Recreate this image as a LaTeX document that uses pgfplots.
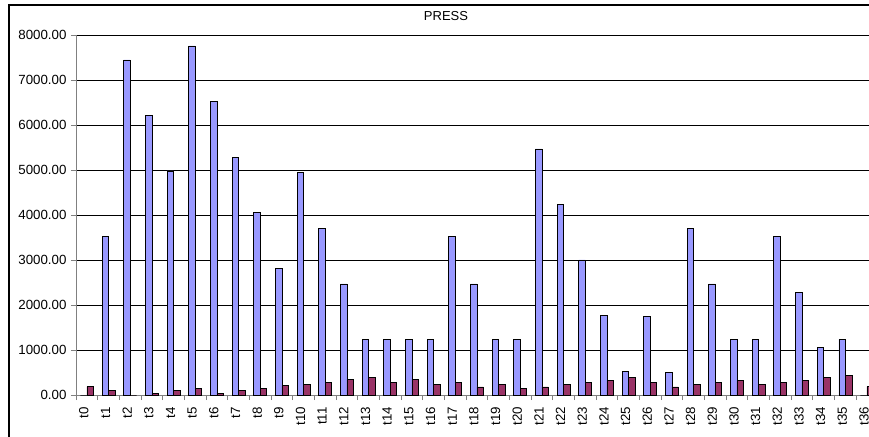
\documentclass[border=0pt]{standalone}
\usepackage{pgfplots}
\usepackage{pgfplotstable}
\pgfplotsset{compat=1.18}
\usepackage{fontspec}
\setmainfont{Liberation Sans}
\definecolor{barblue}{RGB}{153,153,255}
\definecolor{barred}{RGB}{153,51,102}
\definecolor{axgray}{RGB}{128,128,128}

\pgfplotstableread{
x a b
0 0 185
1 3520 104
2 7445 0
3 6207 37
4 4978 104
5 7756 148
6 6518 37
7 5281 104
8 4052 148
9 2807 207
10 4941 244
11 3696 281
12 2467 348
13 1237 393
14 1237 281
15 1237 348
16 1237 244
17 3519 281
18 2467 178
19 1237 244
20 1237 141
21 5467 178
22 4237 244
23 3000 281
24 1763 326
25 526 393
26 1741 281
27 511 178
28 3696 230
29 2467 281
30 1237 326
31 1237 230
32 3519 281
33 2281 326
34 1052 393
35 1237 437
36 0 185
}\data

\begin{document}
\begin{tikzpicture}
\useasboundingbox (0,0) rectangle (869pt,436pt);
\clip (0,0) rectangle (869pt,436pt);
\begin{axis}[
  at={(76pt,41pt)}, anchor=south west,
  scale only axis, width=801.8pt, height=360pt,
  xmin=-0.5, xmax=36.5, ymin=0, ymax=8000,
  axis lines*=left,
  axis line style={axgray, line width=1pt},
  ytick={0,1000,...,8000},
  ymajorgrids, grid style={black, line width=0.8pt},
  xtick={-0.5,0.5,...,36.5},
  x tick label as interval,
  xticklabels={t0,t1,t2,t3,t4,t5,t6,t7,t8,t9,t10,t11,t12,t13,t14,t15,t16,t17,t18,t19,t20,t21,t22,t23,t24,t25,t26,t27,t28,t29,t30,t31,t32,t33,t34,t35,t36},
  tick align=outside, major tick length=5pt,
  tick style={axgray, line width=0.8pt},
  ybar=0pt, bar width=6.5pt,
  yticklabel style={xshift=-1pt, /pgf/number format/.cd, fixed, fixed zerofill, precision=2, 1000 sep={}, assume math mode=true},
  tick label style={font=\fontsize{13.3}{15}\selectfont},
  xticklabel style={yshift=-6pt, xshift=-3pt, rotate=90, anchor=east, inner sep=1pt},
]
  \addplot[fill=barblue, draw=black, line width=0.6pt] table[x=x,y=a]{\data};
  \addplot[fill=barred, draw=black, line width=0.6pt] table[x=x,y=b]{\data};
\end{axis}
\draw[line width=1.2pt] (9pt,-5pt) -- (9pt,431pt) -- (875pt,431pt);
\node[font=\fontsize{13}{15}\selectfont] at (446pt,420pt) {PRESS};
\end{tikzpicture}
\end{document}
